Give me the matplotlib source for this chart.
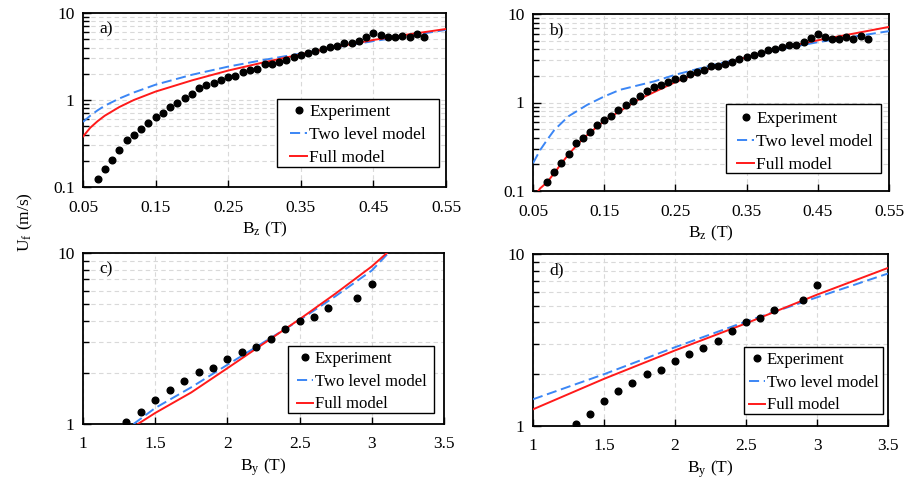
import numpy as np
import matplotlib
matplotlib.use('Agg')
import matplotlib.pyplot as plt
from matplotlib.patches import Rectangle
from matplotlib.ticker import FixedLocator, FuncFormatter, LogLocator, NullFormatter

plt.rcParams['font.family'] = ['Liberation Serif', 'DejaVu Serif']
plt.rcParams['mathtext.fontset'] = 'stix'
FS = 12.5

# experiment, U_f vs B_z (panels a and b)
bz_exp = [0.07, 0.08, 0.09, 0.10, 0.11, 0.12, 0.13, 0.14, 0.15, 0.16, 0.17, 0.18,
          0.19, 0.20, 0.21, 0.22, 0.23, 0.24, 0.25, 0.26, 0.27, 0.28, 0.29, 0.30,
          0.31, 0.32, 0.33, 0.34, 0.35, 0.36, 0.37, 0.38, 0.39, 0.40, 0.41, 0.42,
          0.43, 0.44, 0.45, 0.46, 0.47, 0.48, 0.49, 0.50, 0.51, 0.52]
uf_bz_exp = [0.125, 0.163, 0.207, 0.265, 0.35, 0.40, 0.47, 0.55, 0.64, 0.71, 0.82, 0.93,
             1.05, 1.17, 1.36, 1.48, 1.58, 1.70, 1.86, 1.91, 2.12, 2.24, 2.30, 2.56,
             2.58, 2.70, 2.85, 3.14, 3.28, 3.48, 3.61, 3.87, 4.02, 4.20, 4.47, 4.51,
             4.80, 5.34, 5.88, 5.52, 5.28, 5.28, 5.47, 5.23, 5.67, 5.28]

# models, panel a
bz_a = [0.05, 0.06, 0.07, 0.08, 0.10, 0.12, 0.15, 0.20, 0.25, 0.30, 0.35, 0.40, 0.45, 0.50, 0.55]
two_a = [0.56, 0.66, 0.76, 0.86, 1.04, 1.22, 1.50, 1.95, 2.42, 2.90, 3.42, 4.05, 4.75, 5.50, 6.40]
full_a = [0.38, 0.48, 0.57, 0.66, 0.83, 1.0, 1.25, 1.68, 2.18, 2.72, 3.35, 4.10, 4.90, 5.70, 6.55]

# models, panel b
bz_b_two = [0.05, 0.06, 0.07, 0.08, 0.10, 0.126, 0.15, 0.172, 0.20, 0.22, 0.25, 0.30, 0.35, 0.40, 0.45, 0.50, 0.55]
two_b = [0.206, 0.29, 0.38, 0.49, 0.70, 0.94, 1.17, 1.39, 1.58, 1.73, 2.06, 2.62, 3.25, 4.05, 4.80, 5.55, 6.40]
bz_b_full = [0.0575, 0.06, 0.07, 0.08, 0.09, 0.10, 0.12, 0.15, 0.20, 0.25, 0.30, 0.35, 0.40, 0.45, 0.50, 0.55]
full_b = [0.10, 0.107, 0.126, 0.16, 0.205, 0.26, 0.39, 0.62, 1.10, 1.70, 2.45, 3.25, 4.15, 5.05, 6.00, 7.15]

# experiment, U_f vs B_y (panels c and d)
by_exp = [1.3, 1.4, 1.5, 1.6, 1.7, 1.8, 1.9, 2.0, 2.1, 2.2, 2.3, 2.4, 2.5, 2.6, 2.7, 2.9, 3.0]
uf_by_exp = [1.03, 1.17, 1.39, 1.59, 1.78, 2.01, 2.12, 2.39, 2.62, 2.83, 3.14, 3.59,
             4.00, 4.24, 4.75, 5.43, 6.59]

# models, panel c
by_c_two = [1.35, 1.5, 1.75, 2.0, 2.25, 2.5, 2.75, 3.0, 3.12]
two_c = [1.0, 1.24, 1.64, 2.22, 3.0, 4.05, 5.6, 7.9, 10.1]
by_c_full = [1.38, 1.5, 1.75, 2.0, 2.25, 2.5, 2.75, 3.0, 3.11]
full_c = [1.0, 1.16, 1.53, 2.12, 2.95, 4.1, 5.8, 8.35, 10.1]

# models, panel d
by_d = [1.0, 1.5, 2.0, 2.5, 3.0, 3.5]
two_d = [1.43, 2.0, 2.87, 4.05, 5.6, 7.7]
full_d = [1.25, 1.88, 2.75, 3.95, 5.8, 8.3]

W, H = 913, 484
fig = plt.figure(figsize=(W / 100, H / 100), dpi=100)


def make_ax(l, r, t, b):
    return fig.add_axes([l / W, 1 - b / H, (r - l) / W, (b - t) / H])


axes = [make_ax(83, 446, 13, 187), make_ax(533, 889, 14, 191),
        make_ax(83, 444, 253, 424), make_ax(533, 888, 254, 426)]
# legend frame (x0, y0, x1, y1), text start x, first row centre y, font size
legend_box = [(277, 99, 439, 167), (726, 104, 881, 173),
              (288, 346, 434, 413), (744, 347, 883, 414)]
legend_text = [(309, 114, 12.5), (756, 121, 12.5), (315, 361, 12), (767, 362, 12)]

blue = '#3b86f5'
red = '#ff1a1a'

panels = [
    (bz_a, two_a, bz_a, full_a, bz_exp, uf_bz_exp),
    (bz_b_two, two_b, bz_b_full, full_b, bz_exp, uf_bz_exp),
    (by_c_two, two_c, by_c_full, full_c, by_exp, uf_by_exp),
    (by_d, two_d, by_d, full_d, by_exp, uf_by_exp),
]

for i, ax in enumerate(axes):
    x2, y2, xf, yf, xe, ye = panels[i]
    ax.plot(xe, ye, 'o', color='black', ms=4.8, label='Experiment', zorder=4)
    ax.plot(x2, y2, color=blue, lw=1.4, dashes=(5.2, 2.4), label='Two level model', zorder=3)
    ax.plot(xf, yf, color=red, lw=1.4, label='Full model', zorder=3)
    ax.set_yscale('log')
    if i < 2:
        ax.set_xlim(0.05, 0.55)
        ax.set_ylim(0.1, 10)
        ax.set_xticks([0.05, 0.15, 0.25, 0.35, 0.45, 0.55])
        ax.xaxis.set_major_formatter(FuncFormatter(lambda v, p: '%.2f' % v))
        ax.set_xlabel(r'B$_\mathregular{z}$ (T)', fontsize=FS, labelpad=3)
    else:
        ax.set_xlim(1, 3.5)
        ax.set_ylim(1, 10)
        ax.set_xticks([1, 1.5, 2, 2.5, 3, 3.5])
        ax.xaxis.set_major_formatter(FuncFormatter(lambda v, p: '%g' % v))
        ax.set_xlabel(r'B$_\mathregular{y}$ (T)', fontsize=FS, labelpad=3)
    ax.yaxis.set_major_locator(FixedLocator([0.1, 1, 10]))
    ax.yaxis.set_major_formatter(FuncFormatter(lambda v, p: '%g' % v))
    ax.yaxis.set_minor_locator(LogLocator(base=10, subs=np.arange(2, 10)))
    ax.yaxis.set_minor_formatter(NullFormatter())
    ax.tick_params(axis='both', which='both', direction='in', labelsize=FS,
                   top=False, right=False)
    ax.tick_params(axis='y', which='major', length=6, width=1, pad=6)
    ax.tick_params(axis='y', which='minor', length=4, width=1)
    ax.tick_params(axis='x', which='major', length=5, width=1, pad=9)
    ax.grid(True, which='both', axis='y', ls=(0, (4, 3)), color='#d9d9d9', lw=0.8)
    ax.grid(True, which='major', axis='x', ls=(0, (4, 3)), color='#d9d9d9', lw=0.8)
    ax.set_axisbelow(True)
    for s in ax.spines.values():
        s.set_linewidth(1.3)
    ax.text(0.045, 0.95, 'abcd'[i] + ')', transform=ax.transAxes, fontsize=FS,
            va='top', ha='left')

    x0, y0, x1, y1 = legend_box[i]
    fig.patches.append(Rectangle((x0 / W, 1 - y1 / H), (x1 - x0) / W, (y1 - y0) / H,
                                 transform=fig.transFigure, facecolor='white',
                                 edgecolor='black', lw=1.0, zorder=5))
    tx, ty, lfs = legend_text[i]
    hl, hp = 1.0, 0.1
    lpx = lfs * 100 / 72
    leg = ax.legend(loc='upper left',
                    bbox_to_anchor=((tx - (hl + hp) * lpx) / W, 1 - (ty - 0.6 * lpx) / H),
                    bbox_transform=fig.transFigure, borderaxespad=0, borderpad=0,
                    fontsize=lfs, frameon=False, handlelength=hl, handletextpad=hp,
                    labelspacing=0.4)
    leg.set_zorder(6)
    fig.legends.append(leg)
    ax.get_legend().remove()

fig.text(25 / W, 1 - 222 / H, r'U$_\mathregular{f}$ (m/s)', rotation=90,
         fontsize=FS, ha='center', va='center')

fig.savefig('out.png', dpi=100)
